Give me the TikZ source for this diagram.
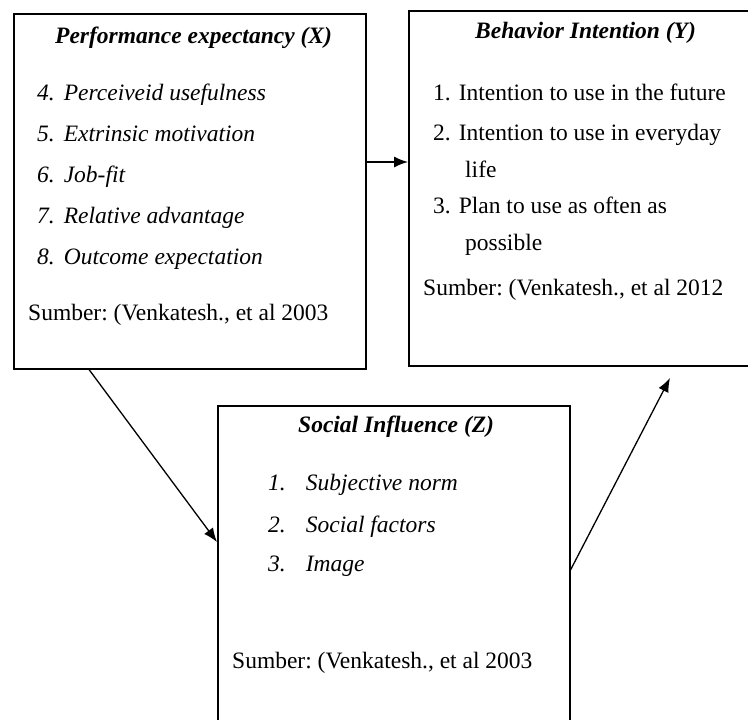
\documentclass[tikz,border=0pt]{standalone}
\usepackage{fontspec}
\setmainfont{Liberation Serif}
\usetikzlibrary{arrows.meta}
\frenchspacing

\begin{document}
\begin{tikzpicture}[x=1pt,y=-1pt]
\tikzstyle{every node}+=[inner sep=0pt,font=\fontsize{23.5}{41}\selectfont]
\tikzstyle{box}=[draw=black,line width=1.5pt,rectangle,anchor=north west]
\tikzstyle{txt}=[anchor=base west]
\tikzstyle{head}=[anchor=base west,font=\fontsize{23.5}{41}\selectfont\bfseries\itshape]
\tikzstyle{conn}=[black,line width=1.3pt,-{Latex[length=14pt,width=11pt]}]
\useasboundingbox (0,0) rectangle (748,720);
\node [box,minimum width=352,minimum height=355] (perf) at (13,13) {};
\node [box,minimum width=345,minimum height=355] (intent) at (408,10) {};
\node [box,minimum width=352,minimum height=320] (social) at (217,405) {};
\node [head] (perfT) at (55,43) {Performance expectancy (X)};
\node [txt] (p4) at (37,100) {\itshape 4.\hspace{9pt}Perceiveid usefulness};
\node [txt] (p5) at (37,141) {\itshape 5.\hspace{9pt}Extrinsic motivation};
\node [txt] (p6) at (37,182) {\itshape 6.\hspace{9pt}Job-fit};
\node [txt] (p7) at (37,223) {\itshape 7.\hspace{9pt}Relative advantage};
\node [txt] (p8) at (37,264) {\itshape 8.\hspace{9pt}Outcome expectation};
\node [txt] (perfS) at (28,320) {Sumber: (Venkatesh., et al 2003};
\node [head] (intentT) at (475,38) {Behavior Intention (Y)};
\node [txt] (i1) at (433,100) {1.\hspace{8pt}Intention to use in the future};
\node [txt] (i2) at (433,140) {2.\hspace{8pt}Intention to use in everyday};
\node [txt] (i2b) at (465,177) {life};
\node [txt] (i3) at (433,213) {3.\hspace{8pt}Plan to use as often as};
\node [txt] (i3b) at (465,250) {possible};
\node [txt] (intentS) at (423,295) {Sumber: (Venkatesh., et al 2012};
\node [head] (socialT) at (298,432) {Social Influence (Z)};
\node [txt] (s1) at (268,490) {\itshape 1.\hspace{20pt}Subjective norm};
\node [txt] (s2) at (268,532) {\itshape 2.\hspace{20pt}Social factors};
\node [txt] (s3) at (268,571) {\itshape 3.\hspace{20pt}Image};
\node [txt] (socialS) at (232,668) {Sumber: (Venkatesh., et al 2003};
\coordinate (tipY) at (670,378);
\draw [conn] (perf.east |- 0,162) -- (intent.west |- 0,162);
\draw [conn] (89,0 |- perf.south) -- (social.west |- 0,542);
\draw [conn] (social.east |- 0,570) -- (tipY);
\end{tikzpicture}
\end{document}
